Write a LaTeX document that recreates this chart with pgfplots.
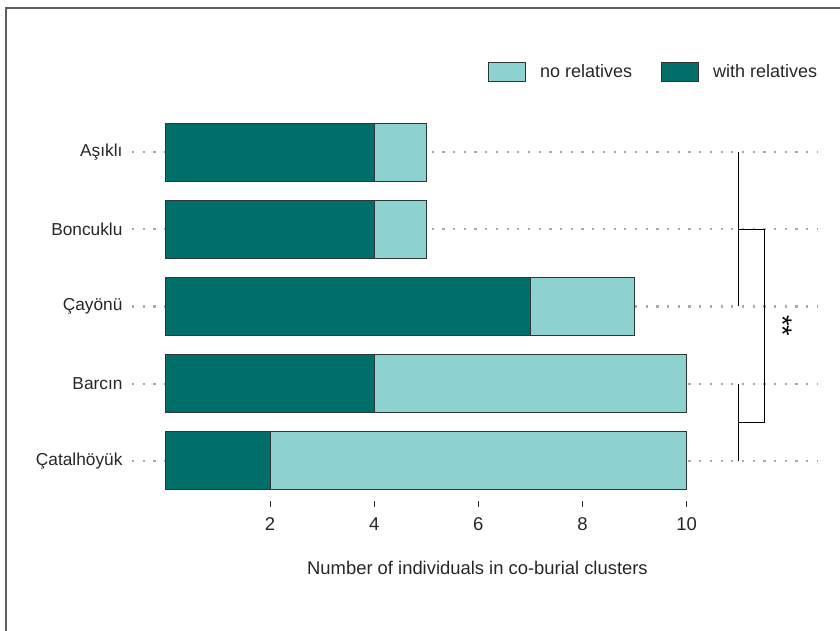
\documentclass[border=0pt]{standalone}
\usepackage{fontspec}
\setmainfont{Liberation Sans}
\usepackage{pgfplots}
\pgfplotsset{compat=1.18}

\definecolor{withrel}{RGB}{0,110,105}
\definecolor{norel}{RGB}{142,210,207}
\definecolor{edge}{RGB}{45,55,55}
\definecolor{griddot}{RGB}{170,170,170}
\definecolor{framegray}{RGB}{95,95,95}

\begin{document}
\begin{tikzpicture}
\path[use as bounding box] (0pt,0pt) rectangle (840pt,630pt);
% panel frame (open to the right and bottom)
\draw[framegray, line width=1.3pt] (6pt,-5pt) -- (6pt,622pt) -- (845pt,622pt);

\begin{axis}[
  at={(132pt,129pt)}, anchor=south west,
  scale only axis, width=686pt, height=387.5pt,
  xmin=-0.65, xmax=12.52, ymin=-0.52, ymax=4.5,
  xbar stacked, bar width=58pt,
  clip=false,
  axis x line*=bottom, axis y line*=left,
  axis line style={draw=none},
  tick align=outside, major tick length=6pt,
  xtick={2,4,6,8,10},
  ytick={0,1,2,3,4},
  yticklabels={Çatalhöyük,Barcın,Çayönü,Boncuklu,Aşıklı},
  ytick style={draw=none},
  xtick style={black!85, line width=0.8pt},
  /pgf/number format/assume math mode=true,
  xticklabel style={font=\fontsize{18.5}{18.5}\selectfont, text=black!85, yshift=-7pt},
  yticklabel style={font=\fontsize{17.3}{17.3}\selectfont, text=black!85},
  ymajorgrids,
  grid style={griddot, line width=2.2pt, dash pattern=on 2.2pt off 8.5pt},
  xlabel={Number of individuals in co-burial clusters},
  xlabel style={font=\fontsize{18.4}{18.4}\selectfont, text=black!85,
    at={(axis description cs:0.5036,-0.1884)}, anchor=base},
  reverse legend,
  legend columns=2,
  legend image code/.code={\draw[#1] (0pt,-9.5pt) rectangle (37pt,9.5pt);},
  legend style={at={(axis description cs:1.002,1.107)}, anchor=east,
    draw=none, fill=none, inner sep=0pt,
    font=\fontsize{18}{18}\selectfont, text=black!85,
    /tikz/every odd column/.append style={column sep=12pt},
    /tikz/every even column/.append style={column sep=27pt}},
]
\addplot[fill=withrel, draw=edge, line width=0.9pt]
  coordinates {(2,0) (4,1) (7,2) (4,3) (4,4)};
\addlegendentry{with relatives}
\addplot[fill=norel, draw=edge, line width=0.9pt]
  coordinates {(8,0) (6,1) (2,2) (1,3) (1,4)};
\addlegendentry{no relatives}

% significance bracket between the two site groups
\draw[black, line width=1.2pt] (axis cs:11,4) -- (axis cs:11,2);
\draw[black, line width=1.2pt] (axis cs:11,1) -- (axis cs:11,0);
\draw[black, line width=1.2pt] (axis cs:11,3) -- (axis cs:11.5,3)
  -- (axis cs:11.5,0.5) -- (axis cs:11,0.5);
\node[rotate=-90, font=\fontsize{27}{27}\selectfont] at (axis cs:11.84,1.75) {**};
\end{axis}
\end{tikzpicture}
\end{document}
